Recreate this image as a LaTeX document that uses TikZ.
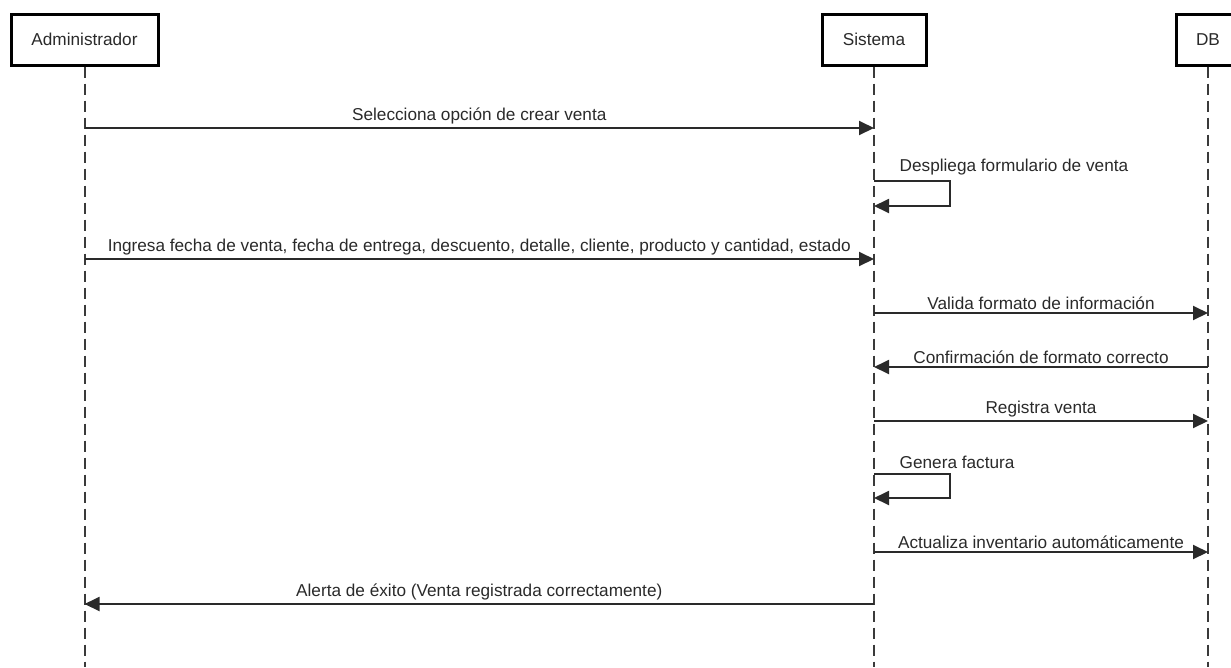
\documentclass[tikz,border=0pt]{standalone}
\usepackage{fontspec}
\setmainfont{Liberation Sans}
\usetikzlibrary{positioning,arrows.meta}
\definecolor{ink}{HTML}{2A2A2A}
\definecolor{life}{HTML}{3A3A3A}
\begin{document}
\begin{tikzpicture}[
  x=1pt, y=-1pt,
  font=\fontsize{17.2}{20}\selectfont,
  actor/.style={draw=black, line width=3pt, minimum height=51pt, inner sep=0pt, text=ink, fill=white},
  lifeline/.style={draw=life, line width=2pt, dash pattern=on 11pt off 6pt},
  msg/.style={draw=ink, line width=1.9pt, -{Triangle[length=15pt,width=14pt]}},
  lbl/.style={above, inner sep=2.5pt, text=ink}]
\useasboundingbox (0,0) rectangle (1231,667);
% participants
\node[actor, minimum width=147pt] (admin) at (84.5,39.5) {Administrador};
\node[actor, minimum width=104pt] (sistema) at (874,39.5) {Sistema};
\node[actor, minimum width=64pt] (db) at (1208,39.5) {DB};
% lifelines
\coordinate (adminEnd) at (84.5,667);
\coordinate (sistemaEnd) at (874,667);
\coordinate (dbEnd) at (1208,667);
\draw[lifeline] (admin.south) -- (adminEnd);
\draw[lifeline] (sistema.south) -- (sistemaEnd);
\draw[lifeline] (db.south) -- (dbEnd);
% message points
\coordinate (a1) at (84.5,128);  \coordinate (s1) at (874,128);
\coordinate (s2) at (874,181);   \coordinate (s2b) at (874,206);
\coordinate (a3) at (84.5,259);  \coordinate (s3) at (874,259);
\coordinate (s4) at (874,313);   \coordinate (d4) at (1208,313);
\coordinate (s5) at (874,367);   \coordinate (d5) at (1208,367);
\coordinate (s6) at (874,421);   \coordinate (d6) at (1208,421);
\coordinate (s7) at (874,474);   \coordinate (s7b) at (874,498);
\coordinate (s8) at (874,552);   \coordinate (d8) at (1208,552);
\coordinate (a9) at (84.5,604);  \coordinate (s9) at (874,604);
% messages
\draw[msg] (a1) -- node[lbl] {Selecciona opción de crear venta} (s1);
\draw[msg] (s2) -- ++(76,0) |- (s2b);
\node[lbl, anchor=south west] (self1) at (897,178) {Despliega formulario de venta};
\draw[msg] (a3) -- node[lbl] {Ingresa fecha de venta, fecha de entrega, descuento, detalle, cliente, producto y cantidad, estado} (s3);
\draw[msg] (s4) -- node[lbl] {Valida formato de información} (d4);
\draw[msg] (d5) -- node[lbl] {Confirmación de formato correcto} (s5);
\draw[msg] (s6) -- node[lbl] {Registra venta} (d6);
\draw[msg] (s7) -- ++(76,0) |- (s7b);
\node[lbl, anchor=south west] (self2) at (897,471) {Genera factura};
\draw[msg] (s8) -- node[lbl] {Actualiza inventario automáticamente} (d8);
\draw[msg] (s9) -- node[lbl] {Alerta de éxito (Venta registrada correctamente)} (a9);
\end{tikzpicture}
\end{document}
